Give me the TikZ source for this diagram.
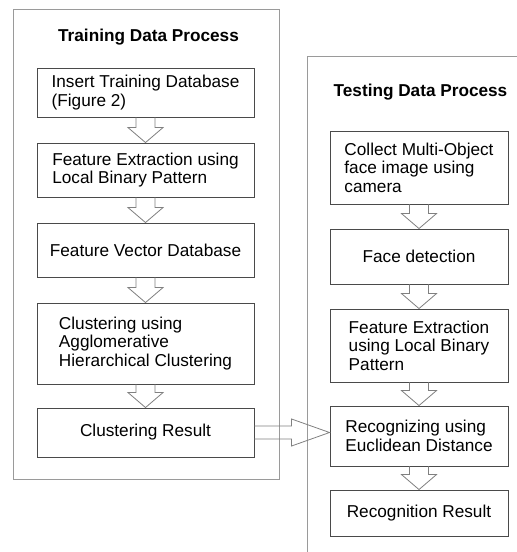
\documentclass[tikz,border=0pt]{standalone}
\usepackage{fontspec}
\setmainfont{Liberation Sans}
\usetikzlibrary{calc}

\definecolor{boxgray}{HTML}{4A4A4A}
\definecolor{framegray}{HTML}{9A9A9A}
\definecolor{arrowgray}{HTML}{808080}

% hollow block arrow from the bottom of #1 down to the top of #2
\newcommand{\blockdown}[2]{%
    \draw[blockarrow] ($(#1.south)+(-9.5pt,0)$) -- ($(#2.north)+(-9.5pt,15pt)$)
        -- ($(#2.north)+(-17.5pt,15pt)$) -- (#2.north) -- ($(#2.north)+(17.5pt,15pt)$)
        -- ($(#2.north)+(9.5pt,15pt)$) -- ($(#1.south)+(9.5pt,0)$);%
}

\begin{document}
\begin{tikzpicture}[
    x=1pt, y=-1pt,
    procbox/.style={draw=boxgray, line width=0.9pt, align=left, inner sep=0pt,
        font=\fontsize{17.2}{18.5}\selectfont},
    leftbox/.style={procbox, minimum width=217pt},
    rightbox/.style={procbox, minimum width=178pt},
    frameline/.style={draw=framegray, line width=0.9pt},
    blockarrow/.style={draw=arrowgray, line width=0.8pt, line join=miter},
    titlelabel/.style={font=\fontsize{17.2}{18.5}\selectfont\bfseries}
]

    \useasboundingbox (0,0) rectangle (517,552);
    \clip (0,0) rectangle (517,552);

    % Containers

    \draw[frameline] (13,9) rectangle (279,479);

    \draw[frameline] (530,56) -- (307,56) -- (307,560);

    

    % Training data process

    \node[titlelabel] (traintitle) at (148.5,37) {Training Data Process};

    \node[leftbox, minimum height=49pt] (insert) at (145.5,92.5) {Insert Training Database\\(Figure 2)};

    \node[leftbox, minimum height=54pt] (lbpl) at (145.5,170) {Feature Extraction using\\Local Binary Pattern};

    \node[leftbox, minimum height=54pt] (vecdb) at (145.5,250) {Feature Vector Database};

    \node[leftbox, minimum height=81pt] (ahc) at (145.5,343.5) {Clustering using\\Agglomerative\\Hierarchical Clustering};

    \node[leftbox, minimum height=49pt] (clres) at (145.5,432.5) {Clustering Result};

    

    % Testing data process

    \node[titlelabel] (testtitle) at (420.5,92) {Testing Data Process};

    \node[rightbox, minimum height=73pt] (collect) at (419,167.5) {Collect Multi-Object\\face image using\\camera};

    \node[rightbox, minimum height=55pt] (facedet) at (419,256.5) {Face detection};

    \node[rightbox, minimum height=73pt] (lbpr) at (419,345.5) {Feature Extraction\\using Local Binary\\Pattern};

    \node[rightbox, minimum height=60pt] (eucl) at (419,436) {Recognizing using\\Euclidean Distance};

    \node[rightbox, minimum height=46pt] (recres) at (419,513) {Recognition Result};

    

    % Arrows

    \blockdown{insert}{lbpl}
    \blockdown{lbpl}{vecdb}
    \blockdown{vecdb}{ahc}
    \blockdown{ahc}{clres}

    \blockdown{collect}{facedet}
    \blockdown{facedet}{lbpr}
    \blockdown{lbpr}{eucl}
    \blockdown{eucl}{recres}

    % Clustering result into the recognizer
    \coordinate (tip) at (eucl.west |- clres.east);
    \draw[blockarrow] ($(clres.east)+(0,6.5pt)$) -- ($(tip)+(-38pt,6.5pt)$)
        -- ($(tip)+(-38pt,13.5pt)$) -- (tip) -- ($(tip)+(-38pt,-13.5pt)$)
        -- ($(tip)+(-38pt,-6.5pt)$) -- ($(clres.east)+(0,-6.5pt)$);

\end{tikzpicture}
\end{document}
